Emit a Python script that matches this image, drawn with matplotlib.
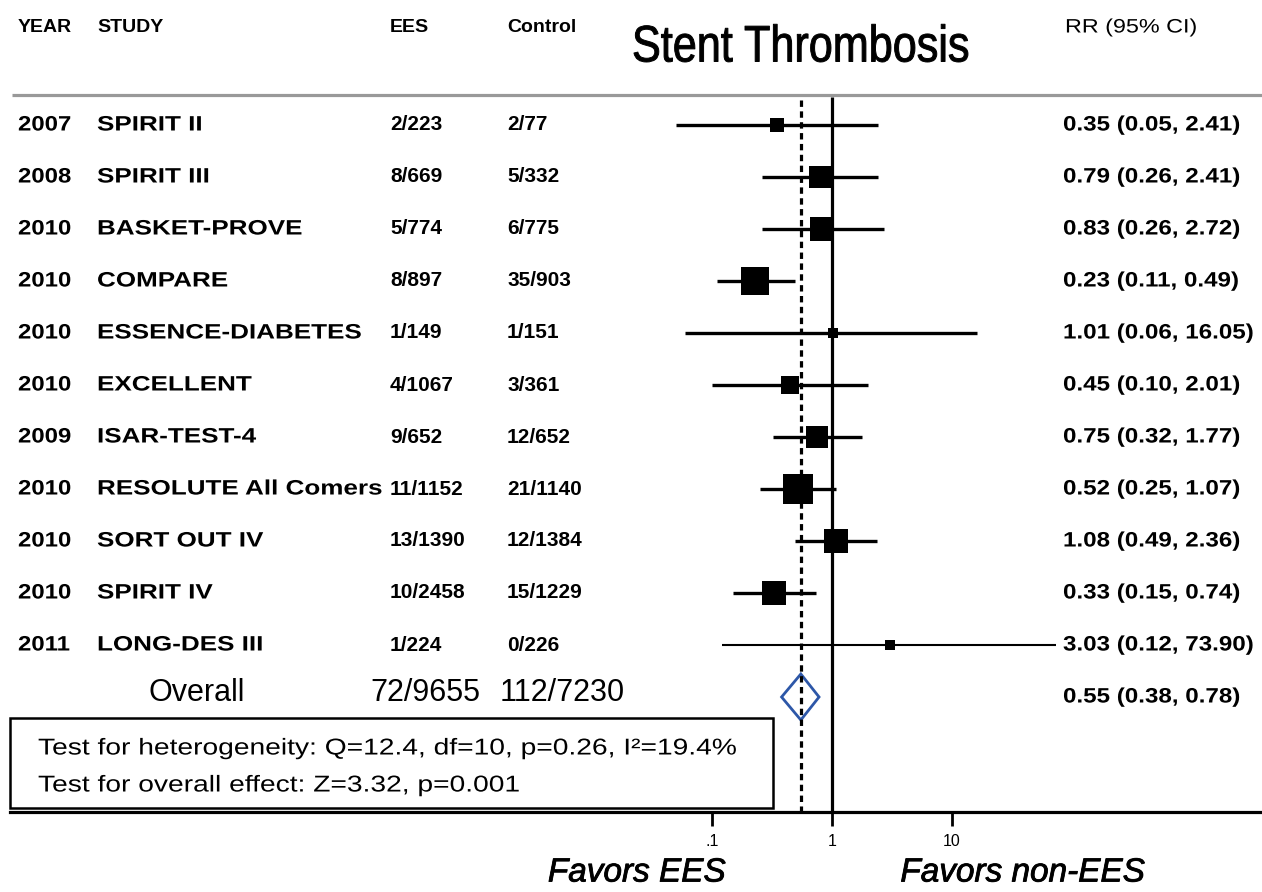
import matplotlib
matplotlib.use("Agg")
import matplotlib.pyplot as plt
import matplotlib.transforms as mtransforms
from matplotlib import patheffects
from matplotlib.patches import Rectangle

# study data
years = ["2007", "2008", "2010", "2010", "2010", "2010", "2009", "2010", "2010", "2010", "2011"]
studies = ["SPIRIT II", "SPIRIT III", "BASKET-PROVE", "COMPARE", "ESSENCE-DIABETES",
           "EXCELLENT", "ISAR-TEST-4", "RESOLUTE All Comers", "SORT OUT IV",
           "SPIRIT IV", "LONG-DES III"]
ees_events = ["2/223", "8/669", "5/774", "8/897", "1/149", "4/1067", "9/652",
              "11/1152", "13/1390", "10/2458", "1/224"]
control_events = ["2/77", "5/332", "6/775", "35/903", "1/151", "3/361", "12/652",
                  "21/1140", "12/1384", "15/1229", "0/226"]
rr = [0.35, 0.79, 0.83, 0.23, 1.01, 0.45, 0.75, 0.52, 1.08, 0.33, 3.03]
ci_low = [0.05, 0.26, 0.26, 0.11, 0.06, 0.10, 0.32, 0.25, 0.49, 0.15, 0.12]
ci_high = [2.41, 2.41, 2.72, 0.49, 16.05, 2.01, 1.77, 1.07, 2.36, 0.74, 73.90]
weights = [3.8, 9.3, 11.1, 15.1, 1.6, 6.2, 10.2, 17.3, 12.0, 12.0, 1.6]

overall_label = "Overall"
overall_ees = "72/9655"
overall_control = "112/7230"
overall_rr = 0.55
overall_low = 0.38
overall_high = 0.78

header = ["YEAR", "STUDY", "EES", "Control"]
title = "Stent Thrombosis"
stats_lines = ["Test for heterogeneity: Q=12.4, df=10, p=0.26, I\u00b2=19.4%",
               "Test for overall effect: Z=3.32, p=0.001"]
tick_values = [0.1, 1, 10]
tick_labels = [".1", "1", "10"]
favors_left = "Favors EES"
favors_right = "Favors non-EES"

W, H = 1262, 892
PX_ROW0, PX_STEP = 125, 52        # pixel row geometry
PX_ONE, PX_DECADE = 832, 120      # x position of RR=1 and width of one decade
PX_AXIS = 812


class Stretch(patheffects.AbstractPathEffect):
    """Scale glyphs horizontally around the text origin (source fonts are distorted)."""

    def __init__(self, sx, stroke=0.0):
        super().__init__()
        self.sx = sx
        self.stroke = stroke

    def draw_path(self, renderer, gc, tpath, affine, rgbFace=None):
        affine = mtransforms.Affine2D().scale(self.sx, 1.0) + affine
        if self.stroke:
            gc0 = renderer.new_gc()
            gc0.copy_properties(gc)
            gc0.set_linewidth(self.stroke)
            gc0.set_foreground(rgbFace)
            gc0.set_joinstyle("round")
            renderer.draw_path(gc0, tpath, affine, rgbFace)
            gc0.restore()
        else:
            renderer.draw_path(gc, tpath, affine, rgbFace)


def fx(px):
    return px / W


def row(py):
    return (py - PX_ROW0) / PX_STEP


plt.rcParams["font.family"] = "Liberation Sans"

fig = plt.figure(figsize=(W / 100, H / 100), dpi=100)
ax = fig.add_axes([fx(10), (H - PX_AXIS) / H, fx(W - 10), PX_AXIS / H])
ax.set_xscale("log")
ax.set_xlim(10 ** ((10 - PX_ONE) / PX_DECADE), 10 ** ((W - PX_ONE) / PX_DECADE))
ax.set_ylim(row(PX_AXIS), row(0))

for side in ["top", "left", "right"]:
    ax.spines[side].set_visible(False)
ax.spines["bottom"].set_linewidth(2.3)
ax.set_yticks([])
ax.set_xticks(tick_values)
ax.set_xticklabels(tick_labels)
ax.minorticks_off()
ax.tick_params(axis="x", length=10, width=2.0, pad=6, labelsize=11.5)

tr = mtransforms.blended_transform_factory(fig.transFigure, ax.transData)

# header, title and separator
head_y = row(28)
for label, px in zip(header, [18, 97, 390, 507]):
    ax.text(fx(px), head_y, label, transform=tr, ha="left", va="center",
            fontsize=14, fontweight="bold")
ax.text(fx(1065), head_y, "RR (95% CI)", transform=tr, ha="left", va="center",
        fontsize=14, path_effects=[Stretch(1.2)])
ax.text(fx(632), row(48), title, transform=tr, ha="left", va="center",
        fontsize=37, path_effects=[Stretch(0.84, stroke=0.7)])
ax.plot([fx(12), fx(W)], [row(95), row(95)], transform=tr, color="#999999",
        lw=2.3, solid_capstyle="butt", clip_on=False)

# reference lines
ax.vlines(1, row(97), row(PX_AXIS), color="black", lw=2.3)
ax.vlines(overall_rr, row(100), row(PX_AXIS), color="black", lw=2.3,
          linestyles=(0, (2.0, 1.4)))

# studies
for i in range(len(studies)):
    lw = 1.5 if i == len(studies) - 1 else 2.4
    ax.plot([ci_low[i], ci_high[i]], [i, i], color="black", lw=lw,
            solid_capstyle="butt")
    side_px = 7.2 * weights[i] ** 0.5
    ax.plot(rr[i], i, marker="s", color="black", markersize=side_px * 0.72,
            markeredgewidth=0)
    ax.text(fx(18), i, years[i], transform=tr, ha="left", va="center",
            fontsize=15, fontweight="bold", path_effects=[Stretch(1.15)])
    ax.text(fx(97), i, studies[i], transform=tr, ha="left", va="center",
            fontsize=15, fontweight="bold", path_effects=[Stretch(1.25)])
    ax.text(fx(390), i, ees_events[i], transform=tr, ha="left", va="center",
            fontsize=15, fontweight="bold")
    ax.text(fx(507), i, control_events[i], transform=tr, ha="left", va="center",
            fontsize=15, fontweight="bold")
    ax.text(fx(1063), i, f"{rr[i]:.2f} ({ci_low[i]:.2f}, {ci_high[i]:.2f})",
            transform=tr, ha="left", va="center", fontsize=15, fontweight="bold",
            path_effects=[Stretch(1.16)])

# overall
oy = len(studies)
dh = 23 / PX_STEP
ax.fill([overall_low, overall_rr, overall_high, overall_rr],
        [oy, oy - dh, oy, oy + dh], facecolor="none", edgecolor="#2d57a8", lw=2.0)
ax.text(fx(197), oy - 0.08, overall_label, transform=tr, ha="center", va="center",
        fontsize=22)
ax.text(fx(370), oy - 0.08, overall_ees, transform=tr, ha="left", va="center",
        fontsize=22)
ax.text(fx(500), oy - 0.08, overall_control, transform=tr, ha="left", va="center",
        fontsize=22)
ax.text(fx(1063), oy, f"{overall_rr:.2f} ({overall_low:.2f}, {overall_high:.2f})",
        transform=tr, ha="left", va="center", fontsize=15, fontweight="bold",
        path_effects=[Stretch(1.16)])

# statistics box
fig.patches.append(Rectangle((fx(10), (H - 808) / H), fx(763), 90 / H,
                             transform=fig.transFigure, facecolor="white",
                             edgecolor="black", lw=1.8))
for line, py in zip(stats_lines, [748, 785]):
    fig.text(fx(38), (H - py) / H, line, ha="left", va="center", fontsize=16.5,
             path_effects=[Stretch(1.23)])

# favors labels
fig.text(fx(637), (H - 873) / H, favors_left, ha="center", va="center",
         fontsize=24, style="italic",
         path_effects=[patheffects.withStroke(linewidth=0.6, foreground="black")])
fig.text(fx(1023), (H - 873) / H, favors_right, ha="center", va="center",
         fontsize=24, style="italic",
         path_effects=[patheffects.withStroke(linewidth=0.6, foreground="black")])

fig.savefig("out.png", dpi=100)
